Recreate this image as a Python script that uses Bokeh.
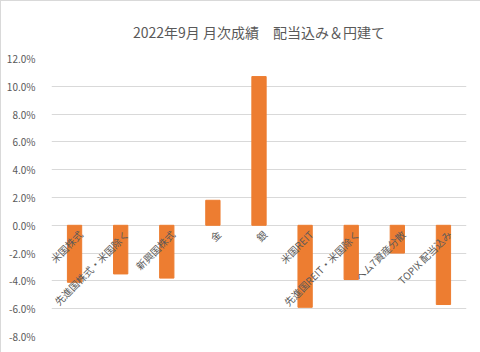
import math
from bokeh.plotting import figure
from bokeh.models import ColumnDataSource, Range1d, FactorRange, FixedTicker, PrintfTickFormatter
from bokeh.core.properties import value
from bokeh.embed import file_html
from bokeh.resources import INLINE

title_text = "2022年9月 月次成績　配当込み＆円建て"
categories = ["米国株式", "先進国株式・米国除く", "新興国株式", "金", "銀",
              "米国REIT", "先進国REIT・米国除く", "ヘム7資産分散", "TOPIX 配当込み"]
returns_pct = [-4.1, -3.5, -3.8, 1.8, 10.7, -5.9, -3.9, -2.0, -5.7]
y_ticks = [-8, -6, -4, -2, 0, 2, 4, 6, 8, 10, 12]

FONT = "Noto Sans CJK JP"
GRAY = "#595959"

src = ColumnDataSource(dict(cat=categories, val=returns_pct, zero=[0] * len(categories)))

p = figure(frame_width=415, frame_height=278,
           x_range=FactorRange(factors=categories, range_padding=0),
           y_range=Range1d(-8, 12), output_backend="svg", toolbar_location=None,
           min_border_left=50, min_border_right=15, min_border_bottom=17, min_border_top=57)

p.title.text = title_text
p.title.align = "center"
p.title.text_font = FONT
p.title.text_font_size = "14px"
p.title.text_font_style = "normal"
p.title.text_color = GRAY
p.title.standoff = 33

p.vbar(x="cat", top="val", bottom=0, width=0.31, color="#ED7D31", source=src)

p.text(x="cat", y="zero", text="cat", source=src, angle=math.pi / 4,
       text_align="right", text_baseline="middle", x_offset=6, y_offset=7,
       text_font=value(FONT), text_font_size="10px", text_color=GRAY)

p.xaxis.visible = False
p.yaxis.ticker = FixedTicker(ticks=y_ticks)
p.yaxis.formatter = PrintfTickFormatter(format="%.1f%%")
p.yaxis.axis_line_color = None
p.yaxis.major_tick_line_color = None
p.yaxis.minor_tick_line_color = None
p.yaxis.major_label_text_font = FONT
p.yaxis.major_label_text_font_size = "10px"
p.yaxis.major_label_text_color = GRAY
p.yaxis.major_label_standoff = 10

p.xgrid.grid_line_color = None
p.ygrid.ticker = FixedTicker(ticks=y_ticks)
p.ygrid.grid_line_color = "#D9D9D9"
p.outline_line_color = None
p.styles = {"border": "1px solid #D9D9D9", "box-sizing": "border-box"}

open("out.html", "w").write(file_html(p, INLINE))
